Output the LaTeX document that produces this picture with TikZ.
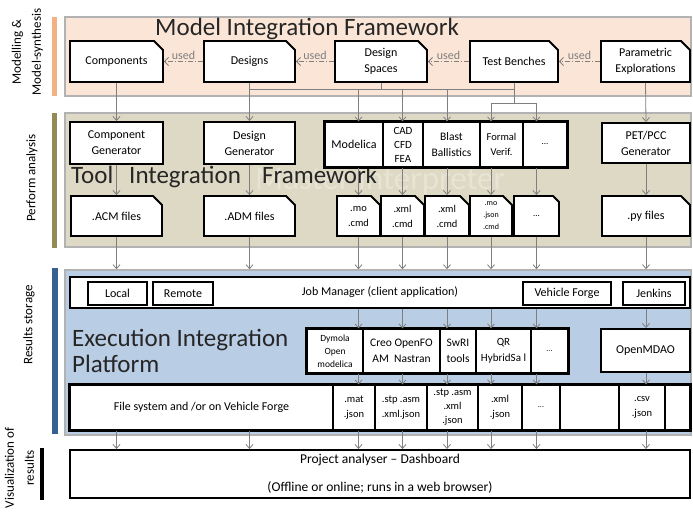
\documentclass[tikz,border=0pt]{standalone}
\usepackage{fontspec}
\setmainfont{Carlito}
\usetikzlibrary{arrows.meta,shapes.misc,calc}
\definecolor{peach}{HTML}{FBE5D6}
\definecolor{tanbg}{HTML}{DDD9C4}
\definecolor{bluebg}{HTML}{B9CDE5}
\definecolor{orangebar}{HTML}{F4B183}
\definecolor{olivebar}{HTML}{948A54}
\definecolor{bluebar}{HTML}{376092}
\definecolor{conn}{HTML}{7F7F7F}
\begin{document}
\begin{tikzpicture}[x=1pt,y=-1pt,
  panel/.style={draw=black!30, line width=1.5pt, inner sep=0pt},
  box/.style={draw, line width=1.9pt, fill=white, inner sep=1pt, align=center, font=\fontsize{12}{16}\selectfont},
  doc/.style={box, chamfered rectangle, chamfered rectangle corners=north east, chamfered rectangle xsep=4.5pt, chamfered rectangle ysep=4.5pt},
  cell/.style={draw, line width=1.2pt, fill=white, inner sep=0pt, align=center, font=\fontsize{10.5}{15}\selectfont},
  ibox/.style={draw, line width=1.9pt, fill=white, inner sep=0pt, font=\fontsize{12}{14}\selectfont},
  arr/.style={draw=conn, line width=0.8pt, -{Straight Barb[length=4pt,width=7pt]}},
  ln/.style={draw=conn, line width=0.8pt},
  usedarr/.style={draw=conn, line width=0.8pt, dash pattern=on 5pt off 2pt on 1pt off 2pt, -{Straight Barb[length=4pt,width=8pt]}},
  usedlbl/.style={above, inner sep=1.5pt, text=conn, font=\fontsize{12}{14}\selectfont},
  lbl/.style={rotate=90, align=center, font=\fontsize{13}{20}\selectfont},
  titletext/.style={font=\fontsize{25}{28}\selectfont, inner sep=0pt, anchor=base west, text=black!85}
]
\useasboundingbox (0,0) rectangle (693,518);
\fill[white] (0,0) rectangle (693,518);

% panels
\node[panel, fill=peach, minimum width=626, minimum height=79] (mif) at (378,56.5) {};
\node[panel, fill=tanbg, minimum width=626, minimum height=134] (tif) at (378,180) {};
\node[panel, fill=bluebg, minimum width=626, minimum height=165] (eip) at (378,352.5) {};

% side bars
\fill[orangebar] (52,17) rectangle (57,96);
\fill[olivebar] (52,113) rectangle (57,248);
\fill[bluebar] (52,268) rectangle (58,434);
\fill[black] (40,448) rectangle (44,500);

% side labels
\node[lbl] (l1) at (27.5,52) {Modelling \&\\Model-synthesis};
\node[lbl] (l2) at (32,178) {Perform analysis};
\node[lbl] (l3) at (29,325) {Results storage};
\node[lbl] (l4) at (19.5,468) {Visualization of\\results};

% titles
\node[titletext] (t1) at (155,36) {Model Integration Framework};
\node[titletext, font=\fontsize{33}{36}\selectfont, text=tanbg!72!white] (ghost) at (255,190) {Master Interpreter};
\node[titletext] (t2a) at (71,184) {Tool};
\node[titletext] (t2b) at (129,184) {Integration};
\node[titletext] (t2c) at (262,184) {Framework};
\node[titletext] (t3a) at (72,346) {Execution Integration};
\node[titletext] (t3b) at (72,372) {Platform};

% top row
\node[doc, minimum width=93, minimum height=41] (comp) at (116.5,61.5) {Components};
\node[doc, minimum width=91, minimum height=41] (des) at (249.5,61.5) {Designs};
\node[doc, minimum width=92, minimum height=41] (dsp) at (381,61.5) {Design\\Spaces};
\node[doc, minimum width=88, minimum height=41] (tb) at (514,61.5) {Test Benches};
\node[doc, minimum width=89, minimum height=41] (pe) at (645.5,61.5) {Parametric\\Explorations};

% tool row 1
\node[box, minimum width=93, minimum height=42] (cg) at (116.5,143) {Component\\Generator};
\node[box, minimum width=91, minimum height=42] (dg) at (249.5,143) {Design\\Generator};
\node[cell, minimum width=58, minimum height=45, font=\fontsize{12}{15}\selectfont] (mod) at (354,144.5) {Modelica};
\node[cell, minimum width=40, minimum height=45, font=\fontsize{11}{14}\selectfont] (cad) at (403,144.5) {CAD\\CFD\\FEA};
\node[cell, minimum width=57, minimum height=45, font=\fontsize{11.5}{16}\selectfont] (blast) at (451.5,144.5) {Blast\\Ballistics};
\node[cell, minimum width=43, minimum height=45] (formal) at (501.5,144.5) {Formal\\Verif.};
\node[cell, minimum width=44, minimum height=45, font=\fontsize{9}{12}\selectfont] (dots1) at (545,144.5) {...};
\draw[line width=2.2pt] (mod.north west) rectangle (dots1.south east);
\node[box, minimum width=88, minimum height=40] (pet) at (646,143) {PET/PCC\\Generator};

% tool row 2
\node[doc, minimum width=91, minimum height=40] (acm) at (116.5,216) {.ACM files};
\node[doc, minimum width=91, minimum height=40] (adm) at (249.5,216) {.ADM files};
\node[doc, minimum width=43, minimum height=40, font=\fontsize{10.5}{15}\selectfont] (f1) at (358.5,216) {.mo\\.cmd};
\node[doc, minimum width=43, minimum height=40, font=\fontsize{10.5}{15}\selectfont] (f2) at (402.5,216) {.xml\\.cmd};
\node[doc, minimum width=44, minimum height=40, font=\fontsize{10.5}{15}\selectfont] (f3) at (447,216) {.xml\\.cmd};
\node[doc, minimum width=42, minimum height=40, font=\fontsize{8}{12}\selectfont] (f4) at (491,216) {.mo\\.json\\.cmd};
\node[doc, minimum width=45, minimum height=40, font=\fontsize{9}{12}\selectfont] (f5) at (536.5,216) {...};
\node[doc, minimum width=88, minimum height=40] (py) at (646,216) {.py files};

% execution: job manager
\node[box, line width=2.2pt, minimum width=620, minimum height=31] (jm) at (380,292.5) {Job Manager (client application)};
\node[ibox, minimum width=59, minimum height=23] (local) at (117.5,293.5) {Local};
\node[ibox, minimum width=60, minimum height=23] (remote) at (183,293.5) {Remote};
\node[ibox, minimum width=88, minimum height=23] (vf) at (567,293.5) {Vehicle Forge};
\node[ibox, minimum width=62, minimum height=23] (jen) at (654,293.5) {Jenkins};

% execution: tools
\node[cell, minimum width=56, minimum height=44, font=\fontsize{9.5}{13}\selectfont] (dym) at (335,351) {Dymola\\Open\\modelica};
\node[cell, minimum width=77, minimum height=44, font=\fontsize{11.5}{16}\selectfont] (creo) at (401.5,351) {Creo OpenFO\\AM\ \ Nastran};
\node[cell, minimum width=36, minimum height=44, font=\fontsize{11.5}{16}\selectfont] (swri) at (458,351) {SwRI\\tools};
\node[cell, minimum width=55, minimum height=44, font=\fontsize{11}{16}\selectfont] (qr) at (503.5,351) {QR\\HybridSa l};
\node[cell, minimum width=37, minimum height=44, font=\fontsize{8}{12}\selectfont] (dots2) at (549.5,351) {...};
\draw[line width=2.2pt] (dym.north west) rectangle (dots2.south east);
\node[box, minimum width=89, minimum height=43] (omdao) at (645.5,350.5) {OpenMDAO};

% execution: files
\node[cell, minimum width=263, minimum height=45, font=\fontsize{12}{15}\selectfont] (fs) at (201.5,407.5) {File system and /or on Vehicle Forge};
\node[cell, minimum width=42, minimum height=45] (mat) at (354,407.5) {.mat\\.json};
\node[cell, minimum width=52, minimum height=45] (stp) at (401,407.5) {.stp .asm\\.xml.json};
\node[cell, minimum width=51, minimum height=45, font=\fontsize{10.5}{14}\selectfont] (stp2) at (452.5,407.5) {.stp .asm\\.xml\\.json};
\node[cell, minimum width=44, minimum height=45] (xml) at (500,407.5) {.xml\\.json};
\node[cell, minimum width=38, minimum height=45, font=\fontsize{8}{12}\selectfont] (dots3) at (541,407.5) {...};
\node[cell, minimum width=59, minimum height=45] (e1) at (589.5,407.5) {};
\node[cell, minimum width=46, minimum height=45] (csv) at (642,407.5) {.csv\\.json};
\node[cell, minimum width=25, minimum height=45] (e2) at (677.5,407.5) {};
\draw[line width=2.2pt] (fs.north west) rectangle (e2.south east);

% dashboard
\node[box, minimum width=620, minimum height=48, font=\fontsize{13.5}{28}\selectfont] (dash) at (380,474) {Project analyser -- Dashboard\\(Offline or online; runs in a web browser)};

% "used" relations
\draw[usedarr] (des.west) -- node[usedlbl] {used} (comp.east);
\draw[usedarr] (dsp.west) -- node[usedlbl] {used} (des.east);
\draw[usedarr] (tb.west) -- node[usedlbl] {used} (dsp.east);
\draw[usedarr] (pe.west) -- node[usedlbl] {used} (tb.east);

% model -> tools
\coordinate (busL) at (249.5,89);
\coordinate (busR) at (514,89);
\coordinate (tbk) at (514,103);
\draw[arr] (comp.south) -- (cg.north);
\draw[arr] (des.south) -- (dg.north);
\draw[arr] (pe.south) -- (pet.north);
\draw[ln] (dsp.south) -- (dsp.south |- busL);
\draw[ln] (busL) -- (busR);
\draw[ln] (tb.south) -- (tbk);
\draw[ln] (f4.north |- tbk) -- (f5.north |- tbk);
\foreach \c/\t in {f1/mod, f2/cad, f3/blast}
  \draw[arr] (\c.north |- busL) -- (\c.north |- \t.north);
\draw[arr] (f4.north |- tbk) -- (f4.north |- formal.north);
\draw[arr] (f5.north |- tbk) -- (f5.north |- dots1.north);

% tool row 1 -> row 2
\draw[arr] (cg.south) -- (acm.north);
\draw[arr] (dg.south) -- (adm.north);
\draw[arr] (pet.south) -- (py.north);
\foreach \c/\t in {f1/mod, f2/cad, f3/blast, f4/formal, f5/dots1}
  \draw[arr] (\c.north |- \t.south) -- (\c.north);

% files -> execution
\foreach \c in {acm, adm, f1, f2, f3, f4, f5, py}
  \draw[arr] (\c.south) -- (\c.south |- eip.north);

% job manager -> tools -> files
\foreach \c/\t in {f1/dym, f2/creo, f3/swri, f4/qr, f5/dots2, py/omdao}
  \draw[arr] (\c.south |- jm.south) -- (\c.south |- \t.north);
\foreach \c/\t in {f1/dym, f2/creo, f3/swri, f4/qr, f5/dots2, py/omdao}
  \draw[arr] (\c.south |- \t.south) -- (\c.south |- fs.north);

% files -> dashboard
\foreach \c in {acm, adm, f1, f2, f3, f4, f5, py}
  \draw[arr] (\c.south |- fs.south) -- (\c.south |- dash.north);
\end{tikzpicture}
\end{document}
